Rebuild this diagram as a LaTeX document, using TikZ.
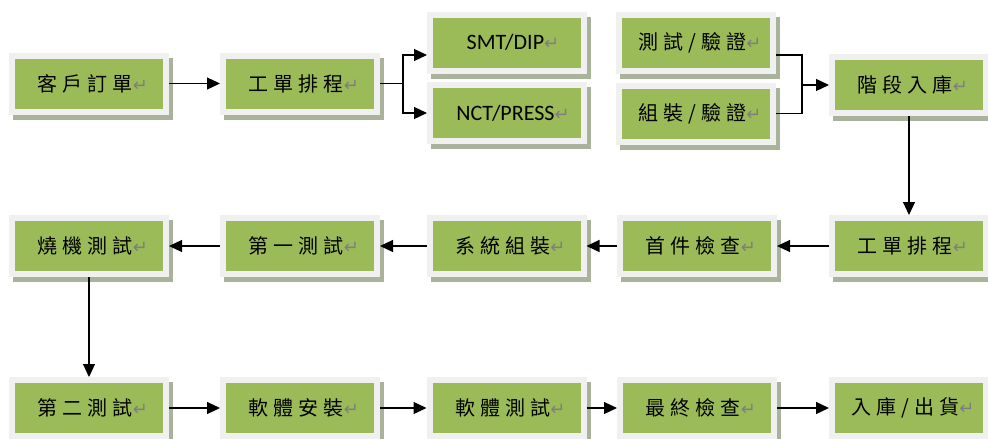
\documentclass[tikz,border=0pt]{standalone}
\usepackage{fontspec}
\newfontfamily\cjk[LetterSpace=25]{Noto Sans CJK TC}
\newfontfamily\latn{Carlito}
\newfontfamily\symb{DejaVu Sans}
\usetikzlibrary{arrows.meta, shadows}
\definecolor{boxgreen}{HTML}{9BBB59}
\definecolor{boxrim}{HTML}{F0F0F0}
\definecolor{boxshade}{HTML}{A9B29A}
\definecolor{retgray}{HTML}{7F7F7F}
\newcommand{\ret}{{\symb\fontsize{18}{18}\selectfont\color{retgray}↵}}
\newcommand{\zh}[1]{\hspace*{8pt}{\cjk\fontsize{20}{20}\selectfont #1}\ret}
\newcommand{\en}[1]{\hspace*{12pt}{\latn\fontsize{22}{22}\selectfont #1}\ret}

\begin{document}
\begin{tikzpicture}[x=1pt, y=-1pt,
    stepnode/.style={draw=boxrim, line width=6pt, fill=boxgreen,
        minimum width=154pt, minimum height=56pt, inner sep=0pt,
        general shadow={fill=boxshade, draw=boxshade, line width=6pt,
            shadow xshift=4pt, shadow yshift=-5pt}},
    link/.style={line width=1.2pt},
    flow/.style={link, -{Triangle[length=13pt,width=12pt]}}]
    \useasboundingbox (0,0) rectangle (988,439);

    % first row
    \node[stepnode] (order) at (89,83.5) {\zh{客戶訂單}};
    \node[stepnode] (plan) at (300,83.5) {\zh{工單排程}};
    \node[stepnode] (smt) at (507,42.5) {\en{SMT/DIP}};
    \node[stepnode] (nct) at (507,113) {\en{NCT/PRESS}};
    \node[stepnode] (test) at (696,43) {\zh{測試/驗證}};
    \node[stepnode] (assy) at (696,113.5) {\zh{組裝/驗證}};
    \node[stepnode] (stage) at (909,85) {\zh{階段入庫}};

    % second row
    \node[stepnode] (burn) at (89,246) {\zh{燒機測試}};
    \node[stepnode] (first) at (300,246) {\zh{第一測試}};
    \node[stepnode] (sysasm) at (506.5,246) {\zh{系統組裝}};
    \node[stepnode] (fai) at (697,246) {\zh{首件檢查}};
    \node[stepnode] (plantwo) at (909,246) {\zh{工單排程}};

    % third row
    \node[stepnode] (second) at (89,408) {\zh{第二測試}};
    \node[stepnode] (swinst) at (300,408) {\zh{軟體安裝}};
    \node[stepnode] (swtest) at (506.5,408) {\zh{軟體測試}};
    \node[stepnode] (final) at (697,408) {\zh{最終檢查}};
    \node[stepnode] (ship) at (909,408) {\zh{入庫/出貨}};

    \coordinate (split) at (403,83.5);
    \coordinate (join) at (802,85);

    \draw[flow] (order) -- (plan);
    \draw[link] (plan) -- (split);
    \draw[flow] (split) |- ([yshift=-12.5pt]smt.west);
    \draw[flow] (split) |- (nct);
    \draw[link] ([yshift=-12pt]test.east) -| (join);
    \draw[link] (assy.east) -| (join);
    \draw[flow] (join) -- (stage);
    \draw[flow] (stage) -- (plantwo);

    \draw[flow] (plantwo) -- (fai);
    \draw[flow] (fai) -- (sysasm);
    \draw[flow] (sysasm) -- (first);
    \draw[flow] (first) -- (burn);
    \draw[flow] (burn) -- (second);

    \draw[flow] (second) -- (swinst);
    \draw[flow] (swinst) -- (swtest);
    \draw[flow] (swtest) -- (final);
    \draw[flow] (final) -- (ship);
\end{tikzpicture}
\end{document}
